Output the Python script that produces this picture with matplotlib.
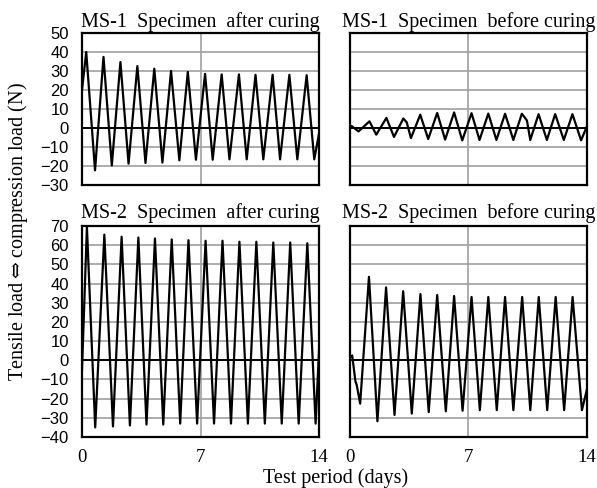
import matplotlib
matplotlib.use("Agg")
import matplotlib.pyplot as plt

plt.rcParams["mathtext.fontset"] = "dejavuserif"

# ---------------- data (turning points) ----------------
# MS-1 Specimen after curing
t_ms1_after = [0, 0.25, 0.77, 1.27, 1.76, 2.27, 2.75, 3.27, 3.75, 4.27, 4.75, 5.26, 5.75,
               6.25, 6.73, 7.27, 7.72, 8.25, 8.71, 9.27, 9.73, 10.25, 10.71, 11.26, 11.7,
               12.25, 12.72, 13.27, 13.72, 14]
v_ms1_after = [20, 40, -22.3, 37.4, -19.7, 34.7, -18.8, 32.6, -18.4, 31.2, -18.2, 30, -17,
               29.5, -16.7, 28.5, -16.7, 28.2, -16.5, 28.2, -16.5, 28, -16.5, 28, -16.5,
               28, -16.5, 27.8, -16.5, -3]

# MS-1 Specimen before curing
t_ms1_before = [0, 0.1, 0.5, 1.15, 1.55, 2.15, 2.6, 3.15, 3.35, 3.6, 4.15, 4.62, 5.15, 5.62,
                6.15, 6.63, 7.18, 7.65, 8.17, 8.65, 9.16, 9.65, 10.15, 10.45, 10.65, 11.14,
                11.63, 12.12, 12.63, 13.14, 13.65, 14]
v_ms1_before = [1.2, 1.0, -1.8, 3.5, -3.5, 5.3, -4.7, 5.0, 3.0, -5.3, 7.0, -5.8, 7.9, -6.1,
                8.2, -6.5, 7.8, -6.3, 7.6, -6.3, 7.5, -6.3, 7.5, 4.0, -6.3, 7.3,
                -6.3, 7.3, -6.3, 7.3, -6.5, 1.0]

# MS-2 Specimen after curing
t_ms2_after = [0, 0.29, 0.78, 1.32, 1.83, 2.34, 2.83, 3.33, 3.81, 4.31, 4.8, 5.3, 5.8,
               6.29, 6.8, 7.3, 7.8, 8.3, 8.8, 9.3, 9.8, 10.3, 10.8, 11.3, 11.8, 12.3,
               12.8, 13.31, 13.8, 14]
v_ms2_after = [-5, 69.5, -35, 65.5, -34.5, 64.4, -34, 64, -33.5, 63.5, -33.5, 63, -33,
               62.6, -33, 62.3, -33, 62.3, -33, 61.8, -33, 61.8, -33, 61.4, -33, 61.4,
               -33, 61, -33, 5]

# MS-2 Specimen before curing
t_ms2_before = [0, 0.13, 0.32, 0.4, 0.6, 1.12, 1.62, 2.13, 2.63, 3.14, 3.65, 4.16, 4.65,
                5.15, 5.66, 6.15, 6.65, 7.18, 7.67, 8.17, 8.67, 9.16, 9.65, 10.17, 10.65,
                11.15, 11.65, 12.15, 12.65, 13.15, 13.7, 14]
v_ms2_before = [1.5, 2.5, -11, -13, -22.6, 43.5, -31.8, 38, -28.5, 36, -27.8, 34.5, -27,
                34, -26.6, 33.5, -26.3, 33, -26, 33, -26, 33, -26, 33, -26,
                33, -26, 33, -26, 33, -26, -15]

titles = ["MS-1  Specimen  after curing", "MS-1  Specimen  before curing",
          "MS-2  Specimen  after curing", "MS-2  Specimen  before curing"]
yticks_ms1 = [-30, -20, -10, 0, 10, 20, 30, 40, 50]
yticks_ms2 = [-40, -30, -20, -10, 0, 10, 20, 30, 40, 50, 60, 70]
xticks = [0, 7, 14]
xlabel = "Test period (days)"
ylabel = "Tensile load${\\Leftrightarrow}$compression load (N)"

# ---------------- figure ----------------
W, H = 597, 488
fig = plt.figure(figsize=(W / 100, H / 100), dpi=100)
SERIF = ["Liberation Serif", "DejaVu Serif"]
SANS = ["Liberation Sans", "DejaVu Sans"]


def box(x0, y0, x1, y1):
    return [x0 / W, 1 - y1 / H, (x1 - x0) / W, (y1 - y0) / H]


panels = [
    (box(82, 33, 319, 185), t_ms1_after, v_ms1_after, yticks_ms1, titles[0], True, False, 4.5),
    (box(350, 33, 587, 185), t_ms1_before, v_ms1_before, yticks_ms1, titles[1], False, False, 4.5),
    (box(82, 226, 319, 437), t_ms2_after, v_ms2_after, yticks_ms2, titles[2], True, True, 5.5),
    (box(350, 226, 587, 437), t_ms2_before, v_ms2_before, yticks_ms2, titles[3], False, True, 5.5),
]

GRID = "#a0a0a0"
for rect, t, v, yt, title, show_y, show_x, tpad in panels:
    ax = fig.add_axes(rect)
    ax.set_xlim(xticks[0], xticks[-1])
    ax.set_ylim(yt[0], yt[-1])
    for yv in yt[1:-1]:
        if yv == 0:
            ax.axhline(yv, color="black", lw=1.4, zorder=2)
        else:
            ax.axhline(yv, color=GRID, lw=1.2, zorder=1)
    ax.axvline(7, color=GRID, lw=1.2, zorder=1)
    ax.plot(t, v, color="black", lw=1.6, zorder=3)
    ax.set_xticks(xticks)
    ax.set_yticks(yt)
    ax.tick_params(length=0)
    for s in ax.spines.values():
        s.set_linewidth(1.6)
    if show_y:
        ax.tick_params(axis="y", pad=9.5)
        for lab in ax.get_yticklabels():
            lab.set_family(SANS)
            lab.set_fontsize(12)
    else:
        ax.set_yticklabels([])
    if show_x:
        ax.tick_params(axis="x", pad=9)
        for lab in ax.get_xticklabels():
            lab.set_family(SERIF)
            lab.set_fontsize(13.5)
    else:
        ax.set_xticklabels([])
    ax.set_title(title, family=SERIF, fontsize=14.5, pad=tpad)

fig.text(336 / W, 1 - 478 / H, xlabel, family=SERIF, fontsize=14.5,
         ha="center", va="center")
fig.text(18 / W, 1 - 232 / H, ylabel, family=SERIF, fontsize=14.5,
         ha="center", va="center", rotation=90)

fig.savefig("out.png", dpi=100)
